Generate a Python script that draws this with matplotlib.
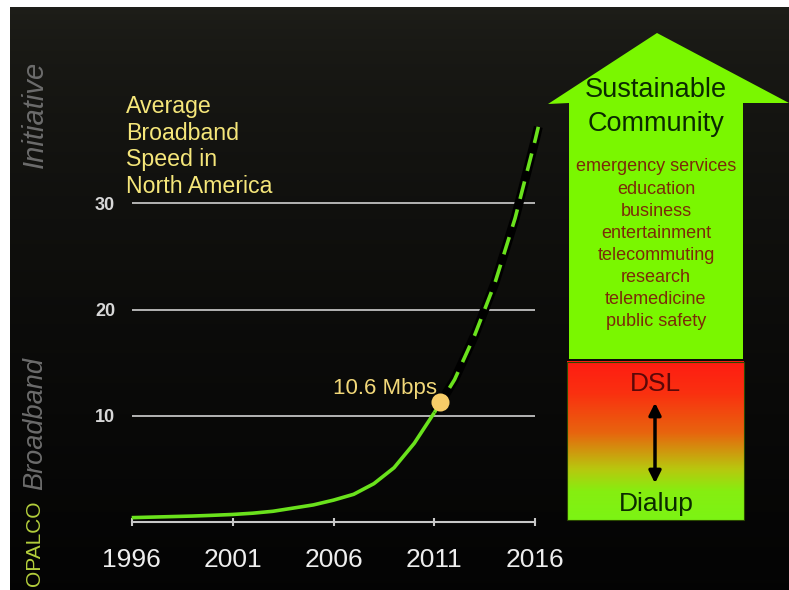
import numpy as np
import matplotlib
matplotlib.use("Agg")
import matplotlib.pyplot as plt
from matplotlib.colors import LinearSegmentedColormap
from matplotlib.patches import Polygon, Rectangle

plt.rcParams['font.family'] = ['Liberation Sans', 'DejaVu Sans']

years_solid = [1996, 1997, 1998, 1999, 2000, 2001, 2002, 2003, 2004, 2005,
               2006, 2007, 2008, 2009, 2010, 2011]
speed_solid = [0.4, 0.45, 0.5, 0.55, 0.62, 0.7, 0.82, 1.0, 1.3, 1.6,
               2.05, 2.6, 3.6, 5.1, 7.4, 10.3]
# projected part (dashed)
years_proj = [2011, 2012, 2013, 2014, 2015, 2016, 2016.15]
speed_proj = [10.3, 13.4, 17.6, 22.5, 28.6, 36.0, 37.2]

dot_year, dot_speed = 2011.3, 11.3
dot_label = "10.6 Mbps"

xticks = [1996, 2001, 2006, 2011, 2016]
yticks = [10, 20, 30]
title_lines = ["Average", "Broadband", "Speed in", "North America"]
uses = ["emergency services", "education", "business", "entertainment",
        "telecommuting", "research", "telemedicine", "public safety"]

W, H = 789, 590
fig = plt.figure(figsize=(W / 100, H / 100), dpi=100, facecolor='white')

# dark slide background (white strip at top/left like the screenshot)
bg = fig.add_axes([10 / W, 0, 1 - 10 / W, (H - 7) / H], zorder=0)
grad = np.linspace(0, 1, 256) ** 0.6
top = np.array([0.12, 0.12, 0.10])
bot = np.array([0.015, 0.015, 0.015])
img = (top[None, :] * (1 - grad[:, None]) + bot[None, :] * grad[:, None])[:, None, :]
bg.imshow(img, aspect='auto', extent=[0, 1, 0, 1], origin='upper')
bg.set_axis_off()

# chart axes
x0, x1 = 131.7, 535.3
y_zero = 521.9
px_per_unit = 10.62
ax = fig.add_axes([x0 / W, (H - y_zero) / H, (x1 - x0) / W, 40 * px_per_unit / H], zorder=1)
ax.patch.set_alpha(0)
ax.set_xlim(1996, 2016)
ax.set_ylim(0, 40)

ax.set_yticks(yticks)
ax.set_xticks(xticks)
ax.yaxis.grid(True, color='#b4b4b4', linewidth=1.4)
ax.set_axisbelow(True)
for s in ['top', 'right', 'left']:
    ax.spines[s].set_visible(False)
ax.spines['bottom'].set_color('#c8c8c8')
ax.spines['bottom'].set_linewidth(1.5)
ax.tick_params(axis='y', length=0, pad=12, labelsize=13, labelcolor='#d8d8d8')
for lab in ax.get_yticklabels():
    lab.set_fontweight('bold')
ax.tick_params(axis='x', direction='inout', length=6, width=1.5, color='#c8c8c8',
               pad=16, labelsize=19, labelcolor='#eeeeee')

ax.plot(years_solid, speed_solid, color='#6ae21c', linewidth=2.6,
        solid_capstyle='butt', clip_on=False, zorder=3)
ax.plot(years_proj, speed_proj, color='black', linewidth=6.5,
        solid_capstyle='butt', clip_on=False, zorder=3)
ax.plot(years_proj, speed_proj, color='#6ae21c', linewidth=2.6,
        dashes=(5, 3), clip_on=False, zorder=4)
ax.plot([dot_year], [dot_speed], 'o', markersize=13, color='#f7cc68',
        markeredgewidth=0, clip_on=False, zorder=5)
ax.text(dot_year - 2.75, dot_speed + 1.25, dot_label, color='#f2d879',
        fontsize=16, ha='center', va='center', zorder=5)

# overlay in pixel coordinates for the slide decorations
ov = fig.add_axes([0, 0, 1, 1], zorder=2)
ov.set_xlim(0, W)
ov.set_ylim(H, 0)
ov.set_axis_off()
ov.patch.set_alpha(0)

baselines = [113.3, 140.0, 166.3, 192.7]
for line, yb in zip(title_lines, baselines):
    ov.text(126, yb, line, color='#f5e67a', fontsize=16.7, ha='left', va='baseline')

# vertical brand text
ov.text(35, 543, "OPALCO", rotation=90, color='#b4cf3c', fontsize=15,
        ha='center', va='center')
ov.text(35, 424, "Broadband", rotation=90, color='#6c6c6c', fontsize=19.5,
        fontstyle='italic', ha='center', va='center')
ov.text(35, 114, "Initiative", rotation=90, color='#6c6c6c', fontsize=21,
        fontstyle='italic', ha='center', va='center')

green = '#7af700'
arrow = Polygon([(657, 33), (789, 103), (743, 103), (743, 359), (569, 359),
                 (569, 103), (548, 104)], closed=True, facecolor=green,
                edgecolor='none')
ov.add_patch(arrow)
ov.text(656, 90, "Sustainable", color='#0b2a00', fontsize=19.5, ha='center', va='center')
ov.text(656, 124, "Community", color='#0b2a00', fontsize=19.5, ha='center', va='center')
use_y = [166.7, 190, 211.7, 233, 255, 278, 300, 321.7]
for u, yy in zip(uses, use_y):
    ov.text(656, yy, u, color='#7a2c08', fontsize=13, ha='center', va='center')

# DSL / dialup gradient box
cmap = LinearSegmentedColormap.from_list(
    'dsl', [(0.0, '#ff1c12'), (0.2, '#fa3010'), (0.45, '#e8640e'),
            (0.68, '#b8c80e'), (0.82, '#86ee10'), (1.0, '#7cf414')])
ov.imshow(np.linspace(0, 1, 256)[:, None], cmap=cmap, aspect='auto',
          extent=[567, 744, 520, 361.5], origin='upper', zorder=1)
ov.add_patch(Rectangle((567, 361.5), 177, 158.5, fill=False,
                       edgecolor='#2a4a00', linewidth=0.8, zorder=2))
ov.set_xlim(0, W)
ov.set_ylim(H, 0)
ov.text(655, 384, "DSL", color='#5a0808', fontsize=19, ha='center', va='center', zorder=3)
ov.text(656, 504, "Dialup", color='#0b2a00', fontsize=19, ha='center', va='center', zorder=3)
ov.annotate('', xy=(655, 400), xytext=(655, 486),
            arrowprops=dict(arrowstyle='<|-|>', color='black', lw=2.5,
                            mutation_scale=18), zorder=3)

fig.savefig('out.png', dpi=100, facecolor=fig.get_facecolor())
